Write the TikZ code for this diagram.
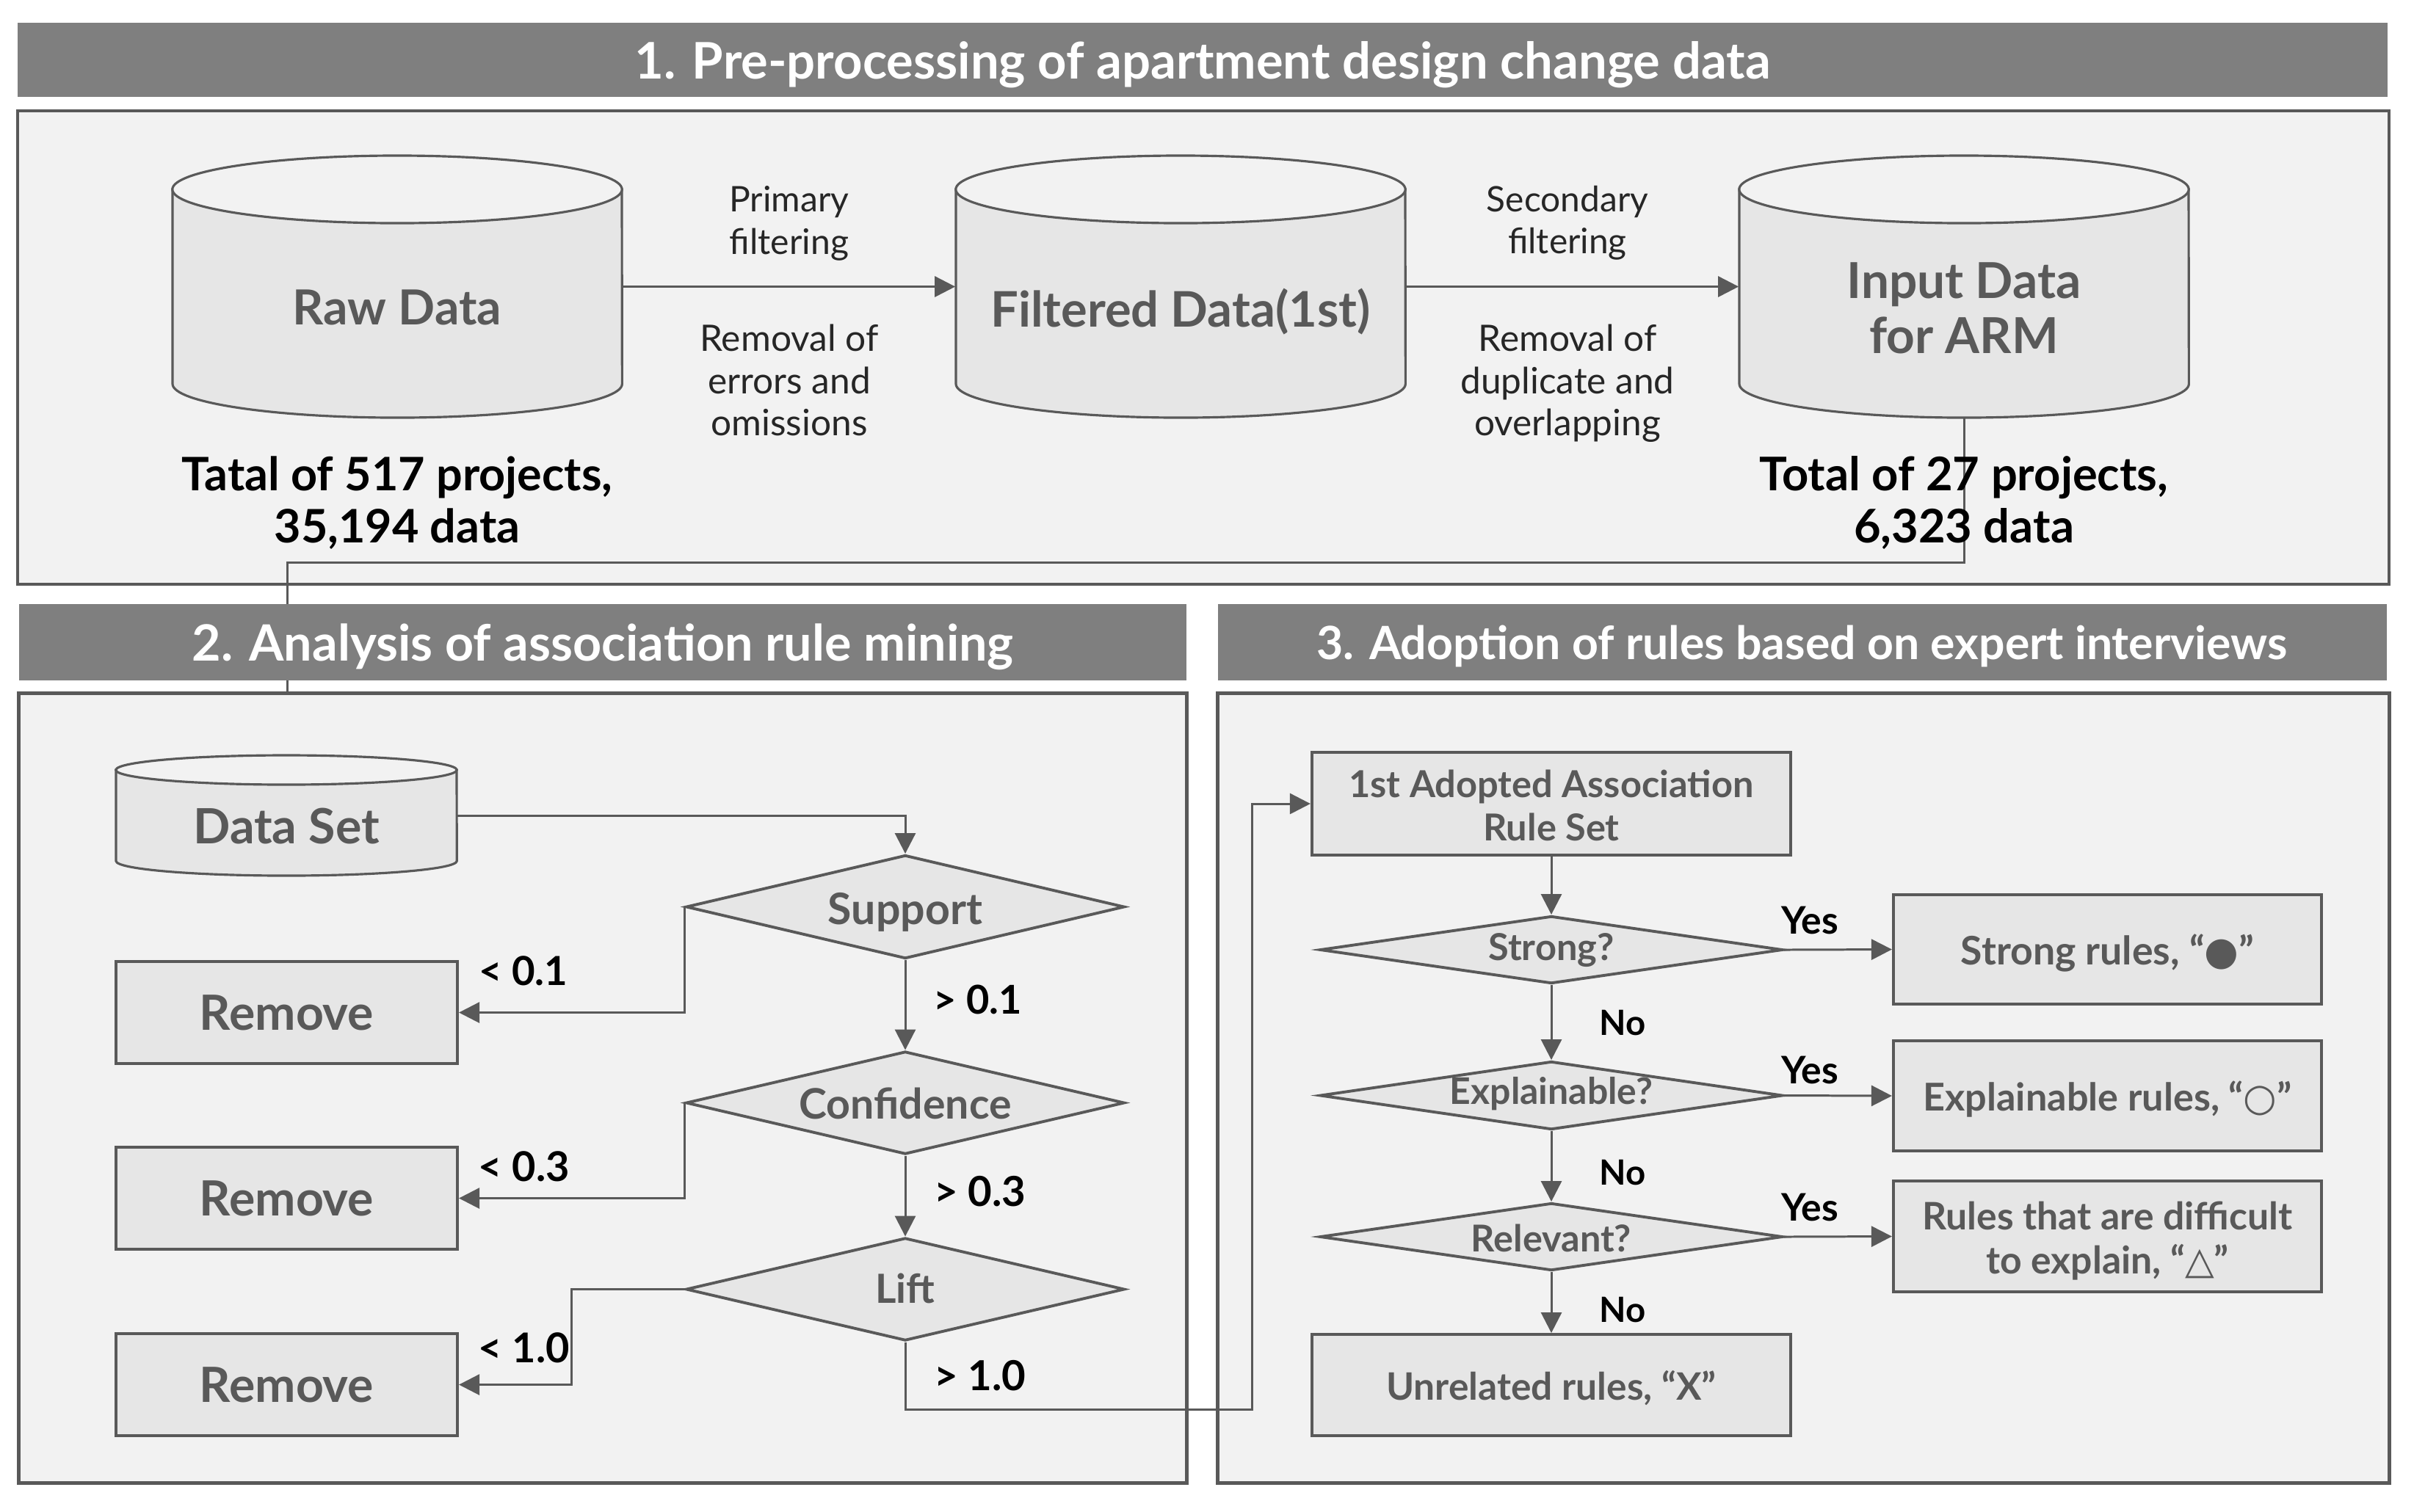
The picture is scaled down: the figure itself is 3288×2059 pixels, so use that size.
\documentclass[tikz,border=0pt]{standalone}
\usepackage{fontspec}
\setmainfont{Lato}
\newfontfamily\symf{DejaVu Sans}
\usepackage{graphicx}
\usetikzlibrary{arrows.meta,shapes.geometric,calc}
\definecolor{hdrc}{HTML}{7F7F7F}
\definecolor{bgc}{HTML}{F2F2F2}
\definecolor{ndc}{HTML}{E6E6E6}
\definecolor{lnc}{HTML}{595959}
\definecolor{txc}{HTML}{595959}
\newcommand\fitw[2]{\resizebox{#1}{!}{#2}}
\newcommand\fitt[3][1]{\resizebox{#2}{!}{\def\arraystretch{#1}\begin{tabular}[b]{@{}c@{}}#3\end{tabular}}}
\begin{document}
\begin{tikzpicture}[x=0.01cm,y=0.01cm,
 hdr/.style={fill=hdrc, draw=none, inner sep=0, text=white, font=\bfseries, text depth=0pt},
 sec/.style={fill=bgc, draw=lnc, line width=1.3pt, inner sep=0},
 nodebox/.style={fill=ndc, draw=lnc, line width=1.1pt, inner sep=0, text=txc, font=\bfseries, text depth=0pt},
 dia/.style={diamond, fill=ndc, draw=lnc, line width=1.1pt, inner sep=0},
 ntext/.style={inner sep=0, text=txc, font=\bfseries, text depth=0pt},
 lbl/.style={inner sep=0, text=black!85, text depth=0pt},
 blbl/.style={inner sep=0, text=black, font=\bfseries, text depth=0pt},
 ghost/.style={inner sep=0, draw=none},
 conn/.style={draw=lnc, line width=0.85pt},
 arr/.style={conn, -{Triangle[length=0.28cm,width=0.28cm]}},
 cylb/.style={fill=ndc, draw=lnc, line width=0.9pt},
 cylt/.style={fill=bgc, draw=lnc, line width=0.9pt}]
\useasboundingbox[fill=white] (0,0) rectangle (3288,-2059);

% ---------- section 1 ----------
\node[hdr, minimum width=32.26cm, minimum height=1.01cm] (h1) at (1638,-81.5)
  {\fitw{15.46cm}{1. Pre-processing of apartment design change data}};
\node[sec, minimum width=32.28cm, minimum height=6.45cm] (b1) at (1639,-473.5) {};

% cylinders
\path[cylb] (235,-258) -- (235,-523) arc[start angle=180,end angle=360,x radius=3.06cm,y radius=0.46cm] -- (847,-258) -- cycle;
\path[cylt] (541,-258) ellipse[x radius=3.06cm,y radius=0.46cm];
\node[ghost, minimum width=6.12cm, minimum height=3.57cm] (raw) at (541,-390.5) {};

\path[cylb] (1302,-258) -- (1302,-523) arc[start angle=180,end angle=360,x radius=3.06cm,y radius=0.46cm] -- (1914,-258) -- cycle;
\path[cylt] (1608,-258) ellipse[x radius=3.06cm,y radius=0.46cm];
\node[ghost, minimum width=6.12cm, minimum height=3.57cm] (filt) at (1608,-390.5) {};

\path[cylb] (2369,-258) -- (2369,-523) arc[start angle=180,end angle=360,x radius=3.06cm,y radius=0.46cm] -- (2981,-258) -- cycle;
\path[cylt] (2675,-258) ellipse[x radius=3.06cm,y radius=0.46cm];
\node[ghost, minimum width=6.12cm, minimum height=3.57cm] (inp) at (2675,-390.5) {};

\node[ntext] (rawt) at (541,-419) {\fitw{2.84cm}{Raw Data}};
\node[ntext] (filtt) at (1608,-419) {\fitw{5.17cm}{Filtered Data(1st)}};
\node[ntext] (inpt) at (2675,-418) {\fitt[0.92]{3.19cm}{Input Data\\for ARM}};

\draw[arr] (raw.east) -- (filt.west);
\draw[arr] (filt.east) -- (inp.west);

\node[lbl] (l1) at (1075,-297) {\fitt{1.63cm}{Primary\\filtering}};
\node[lbl] (l2) at (1075,-516) {\fitt[0.96]{2.43cm}{Removal of\\errors and\\omissions}};
\node[lbl] (l3) at (2135,-297) {\fitt{2.20cm}{Secondary\\filtering}};
\node[lbl] (l4) at (2135,-516) {\fitt[0.96]{2.91cm}{Removal of\\duplicate and\\overlapping}};

% connector from input data to data set
\coordinate (dsin) at (391,-945);
\draw[conn] (inp.south) -- ++(0,-197) -| (dsin);

\node[blbl] (tot1) at (541,-679) {\fitt[0.94]{5.86cm}{Tatal of 517 projects,\\35,194 data}};
\node[blbl] (tot2) at (2675,-679) {\fitt[0.94]{5.56cm}{Total of 27 projects,\\6,323 data}};

% ---------- section 2 ----------
\node[hdr, minimum width=15.90cm, minimum height=1.04cm] (h2) at (821,-875)
  {\fitw{11.18cm}{2. Analysis of association rule mining}};
\node[sec, minimum width=15.90cm, minimum height=10.75cm] (b2) at (821,-1482.5) {};

\path[cylb] (158,-1049) -- (158,-1173) arc[start angle=180,end angle=360,x radius=2.32cm,y radius=0.20cm] -- (622,-1049) -- cycle;
\path[cylt] (390,-1049) ellipse[x radius=2.32cm,y radius=0.20cm];
\node[ghost, minimum width=4.64cm, minimum height=1.64cm] (ds) at (390,-1111) {};
\node[ntext] (dst) at (390,-1125) {\fitw{2.53cm}{Data Set}};

\node[dia, minimum width=5.97cm, minimum height=1.41cm] (sup) at (1233,-1235.5) {};
\node[ntext] (supt) at (1233,-1238) {\fitw{2.10cm}{Support}};
\node[dia, minimum width=5.97cm, minimum height=1.40cm] (conf) at (1233,-1502.5) {};
\node[ntext] (conft) at (1233,-1503) {\fitw{2.89cm}{Confidence}};
\node[dia, minimum width=5.97cm, minimum height=1.40cm] (lift) at (1233,-1756.5) {};
\node[ntext] (liftt) at (1233,-1755) {\fitw{0.81cm}{Lift}};

\node[nodebox, minimum width=4.65cm, minimum height=1.39cm] (rm1) at (390.5,-1379.5) {\fitw{2.37cm}{Remove}};
\node[nodebox, minimum width=4.65cm, minimum height=1.39cm] (rm2) at (390.5,-1632.5) {\fitw{2.37cm}{Remove}};
\node[nodebox, minimum width=4.65cm, minimum height=1.39cm] (rm3) at (390.5,-1886.5) {\fitw{2.37cm}{Remove}};

\draw[arr] (ds.east) -| (sup.north);
\draw[arr] (sup.south) -- (conf.north);
\draw[arr] (conf.south) -- (lift.north);
\draw[arr] (sup.west) |- (rm1.east);
\draw[arr] (conf.west) |- (rm2.east);
\draw[arr] (lift.west) -- ++(-154,0) |- (rm3.east);

\node[blbl] (c1) at (713,-1323) {\fitw{1.21cm}{< 0.1}};
\node[blbl] (c2) at (1332,-1362) {\fitw{1.20cm}{> 0.1}};
\node[blbl] (c3) at (714,-1589) {\fitw{1.24cm}{< 0.3}};
\node[blbl] (c4) at (1335,-1623) {\fitw{1.25cm}{> 0.3}};
\node[blbl] (c5) at (714,-1836) {\fitw{1.24cm}{< 1.0}};
\node[blbl] (c6) at (1335,-1874) {\fitw{1.25cm}{> 1.0}};

% ---------- section 3 ----------
\node[hdr, minimum width=15.91cm, minimum height=1.04cm] (h3) at (2454.5,-875)
  {\fitw{13.21cm}{3. Adoption of rules based on expert interviews}};
\node[sec, minimum width=15.95cm, minimum height=10.75cm] (b3) at (2456.5,-1482.5) {};

\node[nodebox, minimum width=6.52cm, minimum height=1.40cm] (set) at (2113,-1095)
  {\fitt[0.97]{5.51cm}{1st Adopted Association\\Rule Set}};

\node[dia, minimum width=6.30cm, minimum height=0.92cm] (strong) at (2113,-1294) {};
\node[ntext] (strongt) at (2113,-1290) {\fitw{1.71cm}{Strong?}};
\node[dia, minimum width=6.30cm, minimum height=0.93cm] (expl) at (2113,-1492.5) {};
\node[ntext] (explt) at (2113,-1486) {\fitw{2.76cm}{Explainable?}};
\node[dia, minimum width=6.30cm, minimum height=0.92cm] (rel) at (2113,-1685) {};
\node[ntext] (relt) at (2113,-1687) {\fitw{2.18cm}{Relevant?}};

\node[nodebox, minimum width=6.52cm, minimum height=1.38cm] (unrel) at (2113,-1887)
  {\fitw{4.49cm}{Unrelated rules, “X”}};

\node[nodebox, minimum width=5.83cm, minimum height=1.49cm] (sr) at (2870.5,-1293.5)
  {\fitw{3.99cm}{Strong rules, “{\symf ●}”}};
\node[nodebox, minimum width=5.83cm, minimum height=1.50cm] (er) at (2870.5,-1493)
  {\fitw{5.02cm}{Explainable rules, “{\symf ○}”}};
\node[nodebox, minimum width=5.83cm, minimum height=1.51cm] (dr) at (2870.5,-1684.5)
  {\fitt[0.97]{5.04cm}{Rules that are difficult\\to explain, “{\symf △}”}};

\coordinate (w1) at (1705,-1920);
\draw[arr] (lift.south) |- (w1) |- (set.west);

\draw[arr] (set.south) -- (strong.north);
\draw[arr] (strong.south) -- (expl.north);
\draw[arr] (expl.south) -- (rel.north);
\draw[arr] (rel.south) -- (unrel.north);
\draw[arr] (strong.east) -- (sr.west);
\draw[arr] (expl.east) -- (er.west);
\draw[arr] (rel.east) -- (dr.west);

\node[blbl] (y1) at (2465,-1254) {\fitw{0.78cm}{Yes}};
\node[blbl] (y2) at (2465,-1458) {\fitw{0.78cm}{Yes}};
\node[blbl] (y3) at (2465,-1645) {\fitw{0.78cm}{Yes}};
\node[blbl] (n1) at (2210,-1393) {\fitw{0.63cm}{No}};
\node[blbl] (n2) at (2210,-1597) {\fitw{0.63cm}{No}};
\node[blbl] (n3) at (2210,-1784) {\fitw{0.63cm}{No}};
\end{tikzpicture}
\end{document}
